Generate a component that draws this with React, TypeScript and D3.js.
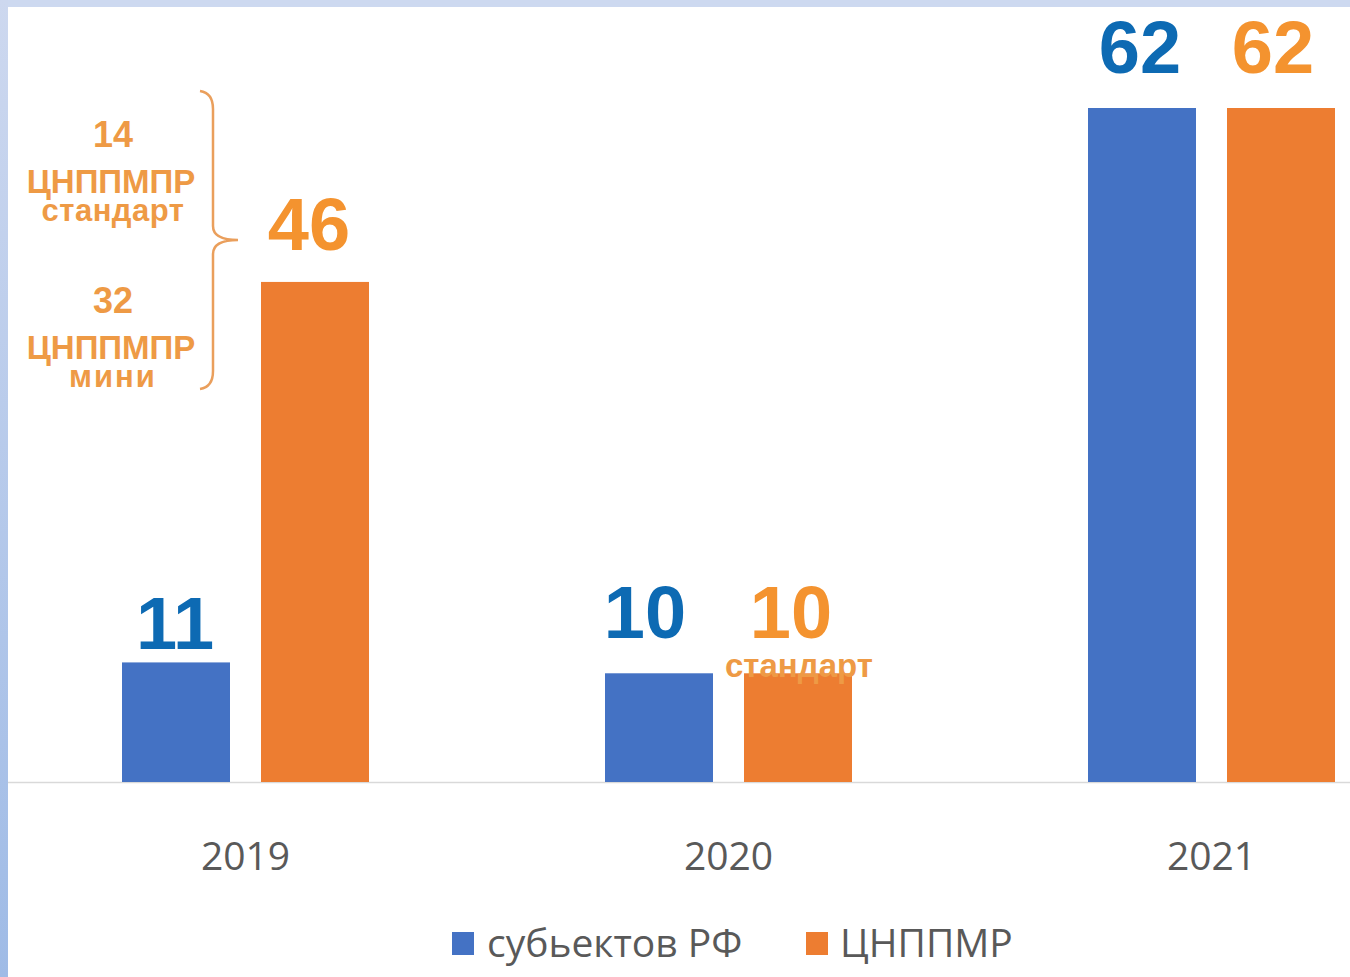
import React from "react";
import * as d3 from "d3";

const years = ["2019", "2020", "2021"];
const seriesNames = ["субьектов РФ", "ЦНППМР"];
const subjectsValues = [11, 10, 62];
const centersValues = [46, 10, 62];
const breakdown2019 = [
  { value: "14", lines: ["ЦНППМПР", "стандарт"] },
  { value: "32", lines: ["ЦНППМПР", "мини"] },
];
const note2020 = "стандарт";

const W = 1350;
const H = 977;
const BLUE = "#4472C4";
const ORANGE = "#ED7D31";
const BLUE_LABEL = "#0D6AB3";
const ORANGE_LABEL = "#F4932F";
const ANNO = "#EE9A45";

// hand-placed label offsets (layout, not data)
const blueDx = [-1, -14, -2];
const blueDy = [-13, -35, -35];
const orangeDx = [-6, -7, -8];
const orangeDy = [-32, -35, -35];

export default function App() {
  const x = d3.scaleBand<string>().domain(years).range([4, 1453]).padding(0);
  const groupW = 247;
  const inner = d3
    .scaleBand<string>()
    .domain(seriesNames)
    .range([0, groupW])
    .paddingInner(31 / 139)
    .paddingOuter(0);
  const y = d3.scaleLinear().domain([0, 62]).range([782, 108]);
  const groupX = (yr: string) => (x(yr) as number) + (x.bandwidth() - groupW) / 2;
  const bw = inner.bandwidth();

  const series = [
    { name: seriesNames[0], values: subjectsValues, color: BLUE, label: BLUE_LABEL, dx: blueDx, dy: blueDy },
    { name: seriesNames[1], values: centersValues, color: ORANGE, label: ORANGE_LABEL, dx: orangeDx, dy: orangeDy },
  ];

  const bold = "'Liberation Sans', Arial, sans-serif";
  const reg = "'Open Sans', 'Noto Sans', sans-serif";

  // brace for 2019 annotation
  const bx = 213;
  const top = 91;
  const bottom = 389;
  const mid = 240;
  const tip = 238;
  const brace = `M ${bx - 13} ${top} Q ${bx} ${top + 2} ${bx} ${top + 18} L ${bx} ${mid - 14} Q ${bx} ${mid} ${tip} ${mid} Q ${bx} ${mid} ${bx} ${mid + 14} L ${bx} ${bottom - 18} Q ${bx} ${bottom - 2} ${bx - 13} ${bottom}`;

  const legendItems = [
    { name: seriesNames[0], color: BLUE, sx: 452, tx: 487 },
    { name: seriesNames[1], color: ORANGE, sx: 806, tx: 840 },
  ];

  return (
    <svg
      width={W}
      height={H}
      style={{ position: "absolute", left: 0, top: 0, background: "#fff" }}
    >
      <defs>
        <linearGradient id="leftBorder" x1="0" y1="0" x2="0" y2="1">
          <stop offset="0" stopColor="#cdd8ef" />
          <stop offset="1" stopColor="#9fbbe6" />
        </linearGradient>
      </defs>
      <rect x={0} y={0} width={W} height={H} fill="#fff" />
      <rect x={0} y={0} width={W} height={7} fill="#cdd9f0" />
      <rect x={0} y={0} width={8} height={H} fill="url(#leftBorder)" />

      {/* axis line */}
      <line x1={8} x2={W} y1={782.5} y2={782.5} stroke="#d9d9d9" strokeWidth={1.5} />

      {/* bars */}
      {series.map((s) =>
        years.map((yr, i) => (
          <rect
            key={s.name + yr}
            x={groupX(yr) + (inner(s.name) as number)}
            y={y(s.values[i])}
            width={bw}
            height={y(0) - y(s.values[i])}
            fill={s.color}
          />
        ))
      )}

      {/* value labels */}
      {series.map((s) =>
        years.map((yr, i) => (
          <text
            key={"l" + s.name + yr}
            x={groupX(yr) + (inner(s.name) as number) + bw / 2 + s.dx[i]}
            y={y(s.values[i]) + s.dy[i]}
            textAnchor="middle"
            fontFamily={bold}
            fontWeight="bold"
            fontSize={74}
            fill={s.label}
          >
            {s.values[i]}
          </text>
        ))
      )}

      {/* 2020 note */}
      <text
        x={groupX(years[1]) + (inner(seriesNames[1]) as number) + bw / 2 + 1}
        y={y(centersValues[1]) + 4}
        textAnchor="middle"
        fontFamily={bold}
        fontWeight="bold"
        fontSize={33}
        fill={ANNO}
      >
        {note2020}
      </text>

      {/* 2019 breakdown */}
      {breakdown2019.map((b, k) => {
        const base = k === 0 ? 147 : 313;
        return (
          <g key={"b" + k} fill={ANNO} fontFamily={bold} fontWeight="bold" textAnchor="middle">
            <text x={113} y={base} fontSize={36}>
              {b.value}
            </text>
            <text x={111} y={base + 46} fontSize={33}>
              {b.lines[0]}
            </text>
            <text x={113} y={base + 74} fontSize={31} letterSpacing={k === 0 ? 0.5 : 2}>
              {b.lines[1]}
            </text>
          </g>
        );
      })}
      <path d={brace} fill="none" stroke="#EA9F5C" strokeWidth={2.5} />

      {/* x axis labels */}
      {years.map((yr) => (
        <text
          key={"x" + yr}
          x={(x(yr) as number) + x.bandwidth() / 2}
          y={870}
          textAnchor="middle"
          fontFamily={reg}
          fontSize={39}
          fill="#595959"
        >
          {yr}
        </text>
      ))}

      {/* legend */}
      {legendItems.map((l) => (
        <g key={"lg" + l.name}>
          <rect x={l.sx} y={932} width={22} height={23} fill={l.color} />
          <text x={l.tx} y={957} fontFamily={reg} fontSize={39} fill="#595959">
            {l.name}
          </text>
        </g>
      ))}
    </svg>
  );
}
